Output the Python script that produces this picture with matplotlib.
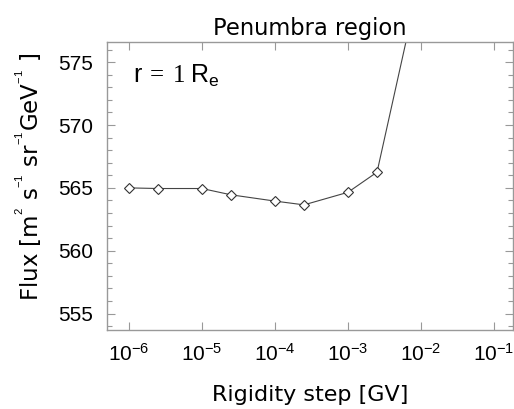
import numpy as np
import matplotlib
matplotlib.use("Agg")
import matplotlib.pyplot as plt
from matplotlib.ticker import LogLocator, NullLocator, MultipleLocator, FuncFormatter

# rigidity step [GV] and flux
step = [1e-6, 2.5e-6, 1e-5, 2.5e-5, 1e-4, 2.5e-4, 1e-3, 2.5e-3, 1e-2]
flux = [565.0, 564.95, 564.95, 564.45, 563.95, 563.65, 564.65, 566.25, 582.0]

plt.rcParams['font.family'] = ['DejaVu Sans']
plt.rcParams['mathtext.fontset'] = 'custom'
plt.rcParams['mathtext.rm'] = 'Liberation Serif'
plt.rcParams['mathtext.sf'] = 'Liberation Sans'
plt.rcParams['mathtext.it'] = 'Liberation Serif:italic'

fig = plt.figure(figsize=(5.14, 4.09), dpi=100)
ax = fig.add_axes([107/514, 1 - 330/409, (513-107)/514, (330-42)/409])

ax.plot(step, flux, color='#444444', lw=0.8, marker='D', ms=5,
        mfc='white', mec='#333333', mew=0.8)

ax.set_xscale('log')
ax.set_xlim(10**-6.3, 10**-0.74)
ax.set_ylim(553.7, 576.6)
ax.xaxis.set_major_locator(LogLocator(base=10, numticks=10))
ax.xaxis.set_minor_locator(NullLocator())
ax.xaxis.set_major_formatter(FuncFormatter(
    lambda v, p: r'$\mathsf{10^{%d}}$' % round(np.log10(v))))
ax.yaxis.set_major_locator(MultipleLocator(5))
ax.yaxis.set_minor_locator(MultipleLocator(1))

for s in ax.spines.values():
    s.set_color('#999999')
    s.set_linewidth(1.0)
ax.tick_params(which='both', direction='in', top=True, right=True,
               color='#999999', width=0.8)
ax.tick_params(which='major', length=6)
ax.tick_params(which='minor', length=3.5)
ax.tick_params(axis='y', labelsize=15, pad=10)
ax.tick_params(axis='x', labelsize=15, pad=9)
for lab in ax.get_yticklabels():
    lab.set_family('Liberation Sans')

ax.set_title('Penumbra region', fontsize=16.3, pad=5)
ax.set_xlabel('Rigidity step [GV]', fontsize=16, labelpad=15)
ax.set_ylabel(r'Flux [m$\mathsf{^{^{2}}}$ s$\mathsf{^{^{-1}}}$ sr$\mathsf{^{^{-1}}}$'
              r'GeV$\mathsf{^{^{-1}}}$ ]', fontsize=16.5)
ax.yaxis.set_label_coords(-0.155, 0.53)
ax.text(0.065, 0.86, r'$\mathsf{r}\;=\;1\;\mathsf{R_e}$', transform=ax.transAxes,
        fontsize=18)

fig.savefig('out.png', dpi=100)
